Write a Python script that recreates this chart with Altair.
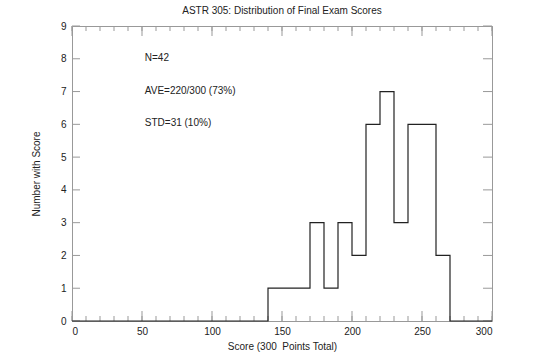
import altair as alt
import pandas as pd

# Histogram bin edges (left edges, plus closing edge 300) and counts per bin
bin_edges = [0, 10, 20, 30, 40, 50, 60, 70, 80, 90, 100, 110, 120, 130, 140,
             150, 160, 170, 180, 190, 200, 210, 220, 230, 240, 250, 260, 270,
             280, 290, 300]
bin_counts = [0, 0, 0, 0, 0, 0, 0, 0, 0, 0, 0, 0, 0, 0, 1,
              1, 1, 3, 1, 3, 2, 6, 7, 3, 6, 6, 2, 0,
              0, 0, 0]

x_major = [0, 50, 100, 150, 200, 250, 300]
x_minor = [0, 10, 20, 30, 40, 50, 60, 70, 80, 90, 100, 110, 120, 130, 140, 150,
           160, 170, 180, 190, 200, 210, 220, 230, 240, 250, 260, 270, 280, 290, 300]
y_major = [0, 1, 2, 3, 4, 5, 6, 7, 8, 9]

notes_text = ["N=42", "AVE=220/300 (73%)", "STD=31 (10%)"]
notes_x = [52, 52, 52]
notes_y = [8, 7, 6]

FONT = "Liberation Sans"
W, H = 420, 295
TICK_COL = "#999999"

hist = pd.DataFrame({"score": bin_edges, "count": bin_counts})
xmaj = pd.DataFrame({"score": x_major})
xmin = pd.DataFrame({"score": x_minor})
ymaj = pd.DataFrame({"count": y_major})
notes = pd.DataFrame({"score": notes_x, "count": notes_y, "label": notes_text})

xscale = alt.Scale(domain=[0, 300], nice=False, zero=False)
yscale = alt.Scale(domain=[0, 9], nice=False, zero=False)

x_axis = alt.Axis(values=x_major, title="Score (300\u00a0 Points Total)",
                  domain=False, ticks=False, grid=False,
                  labelFontSize=10, labelPadding=5, labelFont=FONT,
                  labelColor="#222222", titleFont=FONT, titleFontSize=10,
                  titleFontWeight="normal", titleColor="#222222", titlePadding=5)
y_axis = alt.Axis(values=y_major, title="Number with Score",
                  domain=False, ticks=False, grid=False,
                  labelFontSize=10, labelPadding=6, labelFont=FONT,
                  labelColor="#222222", titleFont=FONT, titleFontSize=10,
                  titleFontWeight="normal", titleColor="#222222", titlePadding=19)

step = alt.Chart(hist).mark_line(interpolate="step-after", color="#222222", strokeWidth=1.2).encode(
    x=alt.X("score:Q", scale=xscale, axis=x_axis),
    y=alt.Y("count:Q", scale=yscale, axis=y_axis),
)

def xticks(df, y1, y2):
    return alt.Chart(df).mark_rule(color=TICK_COL, strokeWidth=1).encode(
        x=alt.X("score:Q", scale=xscale, axis=x_axis),
        y=alt.value(y1), y2=alt.value(y2))

def yticks(df, x1, x2):
    return alt.Chart(df).mark_rule(color=TICK_COL, strokeWidth=1).encode(
        y=alt.Y("count:Q", scale=yscale, axis=y_axis),
        x=alt.value(x1), x2=alt.value(x2))

ticks = [
    xticks(xmin, H, H - 5), xticks(xmaj, H, H - 10),
    xticks(xmin, 0, 5), xticks(xmaj, 0, 10),
    yticks(ymaj, 0, 8), yticks(ymaj, W, W - 9),
]

text = alt.Chart(notes).mark_text(align="left", baseline="alphabetic", font=FONT,
                                  fontSize=10, color="#222222", dy=2).encode(
    x=alt.X("score:Q", scale=xscale, axis=x_axis),
    y=alt.Y("count:Q", scale=yscale, axis=y_axis),
    text="label:N")

chart = alt.layer(*ticks, step, text).properties(
    width=W, height=H,
    autosize=alt.AutoSizeParams(type="none"),
    padding={"left": 72, "top": 26, "right": 47, "bottom": 36},
    title=alt.TitleParams("ASTR 305: Distribution of Final Exam Scores", font=FONT,
                          fontSize=10, fontWeight="normal", color="#222222",
                          anchor="middle", offset=5),
).configure_view(stroke="#999999", strokeWidth=1)

chart.save("out.html", embed_options={"renderer": "svg", "actions": False})
